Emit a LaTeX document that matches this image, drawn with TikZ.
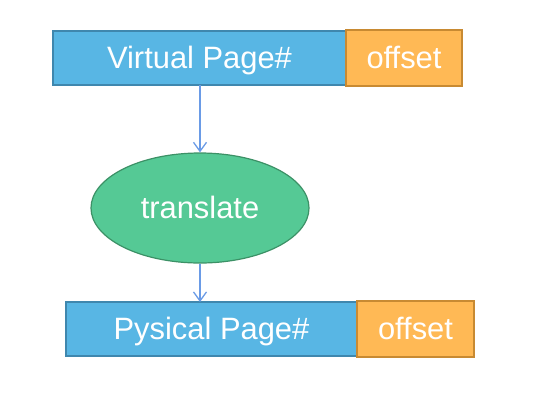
\documentclass[tikz,border=0pt]{standalone}
\usepackage{fontspec}
\setmainfont{Liberation Sans}
\usetikzlibrary{arrows.meta, shapes.geometric}
\definecolor{page blue}{HTML}{58B6E4}
\definecolor{page blue border}{HTML}{3F87AE}
\definecolor{offset orange}{HTML}{FFB955}
\definecolor{offset orange border}{HTML}{C88A32}
\definecolor{translate green}{HTML}{55C995}
\definecolor{translate green border}{HTML}{3C9166}
\definecolor{link blue}{HTML}{6A9BE6}
\tikzset{
	address/.is family,
	address/.cd,
	label text/.style = {
		text = white,
		% baseline sits 10bp below the centre
		text height = 20bp,
		text depth = 0bp,
		font = \fontsize{31}{31}\selectfont,
	},
	field/.style = {
		address/label text,
		rectangle,
		line width = 1.5bp,
		inner sep = 0pt,
		outer sep = 0pt,
	},
	page number/.style = {
		address/field,
		fill = page blue,
		draw = page blue border,
		minimum height = 54bp,
	},
	offset/.style = {
		address/field,
		fill = offset orange,
		draw = offset orange border,
		minimum width = 116bp,
		minimum height = 56bp,
	},
	unit/.style = {
		address/label text,
		ellipse,
		line width = 1.2bp,
		fill = translate green,
		draw = translate green border,
		inner sep = 0pt,
		minimum width = 218bp,
		minimum height = 110bp,
	},
	link/.style = {
		draw = link blue,
		line width = 1.3bp,
		-{Straight Barb[length = 9bp, width = 13bp]},
	},
}

\begin{document}
\begin{tikzpicture}[x = 1bp, y = -1bp]
		\useasboundingbox (0, 0) rectangle (549, 413);

		\node[address/page number, minimum width = 293bp] (virtual) at (199.5, 58) {Virtual Page\#};
		\node[address/offset] (virtual offset) at (404, 58) {offset};

		\node[address/unit] (translate) at (200, 208) {translate};

		\node[address/page number, minimum width = 291bp] (physical) at (211.5, 329) {Pysical Page\#};
		\node[address/offset, minimum width = 117bp] (physical offset) at (415.5, 329) {offset};

		\draw[address/link] (virtual.south -| translate.north) -- (translate.north);
		\draw[address/link] (translate.south) -- (translate.south |- physical.north);
	\end{tikzpicture}
\end{document}
